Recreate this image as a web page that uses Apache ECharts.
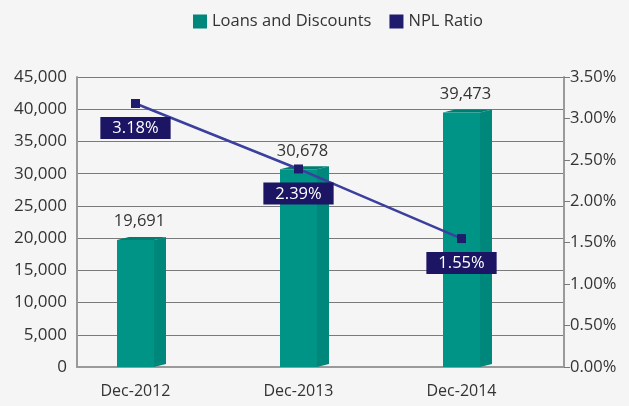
<!DOCTYPE html>
<html>
<head>
<meta charset="utf-8">
<script src="https://cdn.jsdelivr.net/npm/echarts@6/dist/echarts.min.js"></script>
<style>
  html, body { margin: 0; padding: 0; background: #f5f5f5; }
  #chart { width: 629px; height: 406px; }
</style>
</head>
<body>
<div id="chart"></div>
<script>
// data
var categories = ['Dec-2012', 'Dec-2013', 'Dec-2014'];
var loans = [19691, 30678, 39473];
var nplRatio = [3.18, 2.39, 1.55];

var FONT = '"Open Sans", sans-serif';
var TEXT = '#333333';

// 3D-ish bar: front face, side face, top face, value label
function renderBar(params, api) {
  var top = api.coord([api.value(0), api.value(1)]);
  var base = api.coord([api.value(0), 0]);
  var w = 37, dx = 12, dy = 3;
  var x = top[0] - w / 2;
  return {
    type: 'group',
    children: [
      { type: 'polygon', shape: { points: [[x + w, top[1]], [x + w + dx, top[1] - dy], [x + w + dx, base[1] - dy], [x + w, base[1]]] }, style: { fill: '#00877b' } },
      { type: 'polygon', shape: { points: [[x, top[1]], [x + dx, top[1] - dy], [x + w + dx, top[1] - dy], [x + w, top[1]]] }, style: { fill: '#007d71' } },
      { type: 'rect', shape: { x: x, y: top[1], width: w, height: base[1] - top[1] }, style: { fill: '#009487' } },
      { type: 'text', x: top[0] + 4, y: top[1] - dy - 7,
        style: { text: api.value(1).toLocaleString('en-US'), align: 'center', verticalAlign: 'bottom', fill: TEXT, font: '16.5px ' + FONT } }
    ]
  };
}

var chart = echarts.init(document.getElementById('chart'));
chart.setOption({
  backgroundColor: '#f5f5f5',
  textStyle: { fontFamily: FONT },
  legend: {
    left: 188, top: 8,
    itemWidth: 14, itemHeight: 14, itemGap: 18,
    textStyle: { fontSize: 16.5, color: TEXT, fontFamily: FONT },
    data: [
      { name: 'Loans and Discounts', icon: 'rect', itemStyle: { color: '#00877b' } },
      { name: 'NPL Ratio', icon: 'rect', itemStyle: { color: '#1f1c6e' } }
    ]
  },
  grid: [
    { left: 77, right: 65, top: 77, bottom: 39 },
    { left: 54, right: 86, top: 77, bottom: 39 }
  ],
  xAxis: [
    {
      gridIndex: 0, type: 'category', data: categories,
      axisLine: { lineStyle: { color: '#9a9a9a', width: 2 } },
      axisTick: { show: false }, axisLabel: { show: false }
    },
    {
      gridIndex: 1, type: 'category', data: categories,
      axisLine: { show: false }, axisTick: { show: false },
      axisLabel: { color: TEXT, fontSize: 16, margin: 16, fontFamily: FONT }
    }
  ],
  yAxis: [
    {
      gridIndex: 0, type: 'value', min: 0, max: 45000, interval: 5000,
      axisLine: { show: true, lineStyle: { color: '#9a9a9a', width: 2 } },
      axisTick: { show: false },
      splitLine: { lineStyle: { color: '#7a7a7a', width: 1 } },
      axisLabel: { color: TEXT, fontSize: 17, margin: 10, fontFamily: FONT,
        formatter: function (v) { return v.toLocaleString('en-US'); } }
    },
    {
      gridIndex: 0, type: 'value', position: 'right', min: 0, max: 3.5, interval: 0.5,
      axisLine: { show: true, lineStyle: { color: '#9a9a9a', width: 2 } },
      axisTick: { show: true, length: 6, lineStyle: { color: '#7a7a7a' } },
      splitLine: { show: false },
      axisLabel: { color: TEXT, fontSize: 16.5, margin: 6, fontFamily: FONT,
        formatter: function (v) { return v.toFixed(2) + '%'; } }
    },
    { gridIndex: 1, type: 'value', min: 0, max: 45000, show: false, splitLine: { show: false } },
    { gridIndex: 1, type: 'value', min: 0, max: 3.5, show: false, splitLine: { show: false } }
  ],
  series: [
    {
      name: 'Loans and Discounts', type: 'custom',
      xAxisIndex: 1, yAxisIndex: 2,
      itemStyle: { color: '#00877b' },
      renderItem: renderBar,
      encode: { x: 0, y: 1 },
      data: loans.map(function (v, i) { return [i, v]; }),
      z: 2
    },
    {
      name: 'NPL Ratio', type: 'line',
      xAxisIndex: 1, yAxisIndex: 3,
      data: nplRatio,
      symbol: 'rect', symbolSize: 9,
      itemStyle: { color: '#1f1c6e' },
      lineStyle: { color: '#3b3f9d', width: 2.5 },
      label: {
        show: true, position: 'bottom', distance: 9,
        formatter: function (p) { return p.value.toFixed(2) + '%'; },
        backgroundColor: '#1b1564', color: '#ffffff',
        fontSize: 16.5, fontFamily: FONT, padding: [3, 12, 2, 12]
      },
      z: 5
    }
  ]
});
</script>
</body>
</html>
